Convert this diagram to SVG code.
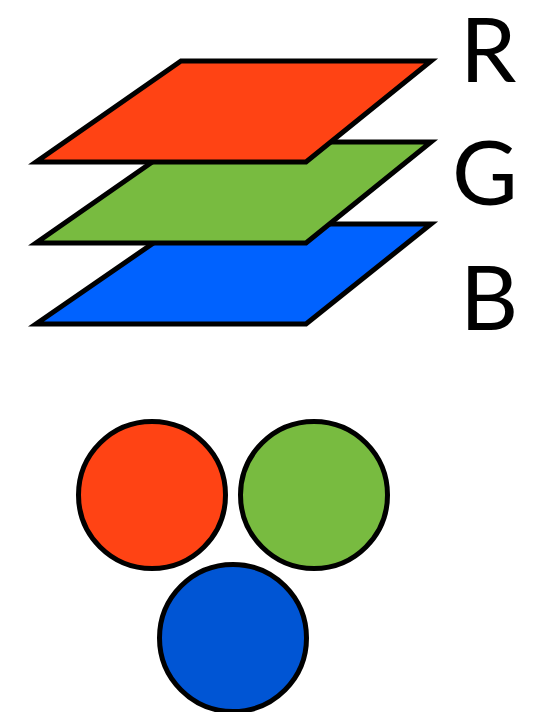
<svg xmlns="http://www.w3.org/2000/svg" width="545" height="712" viewBox="0 0 545 712">
<style>
.sh{stroke:#000;stroke-width:5;stroke-linejoin:miter;stroke-miterlimit:10}
.lbl{font-family:Lato,"Open Sans","Liberation Sans",sans-serif;font-size:90px;fill:#000}
</style>
<rect width="545" height="712" fill="#fff"/>
<g id="plane-b"><polygon class="sh" fill="#0062FF" points="181,224 431,224 306,324 36,324"/></g>
<g id="plane-g"><polygon class="sh" fill="#78BB40" points="181,142 431,142 306,243 36,243"/></g>
<g id="plane-r"><polygon class="sh" fill="#FF4314" points="181,61 431,61 306,162 36,162"/></g>
<g id="label-r"><text class="lbl" x="460" y="82">R</text></g>
<g id="label-g"><text class="lbl" x="452" y="205">G</text></g>
<g id="label-b"><text class="lbl" x="460" y="330">B</text></g>
<g id="circle-r"><circle class="sh" fill="#FF4314" cx="152" cy="495" r="73.5"/></g>
<g id="circle-g"><circle class="sh" fill="#78BB40" cx="314" cy="495" r="73.5"/></g>
<g id="circle-b"><circle class="sh" fill="#0055D4" cx="233" cy="638" r="73.5"/></g>
<g id="connectors"/>
</svg>
